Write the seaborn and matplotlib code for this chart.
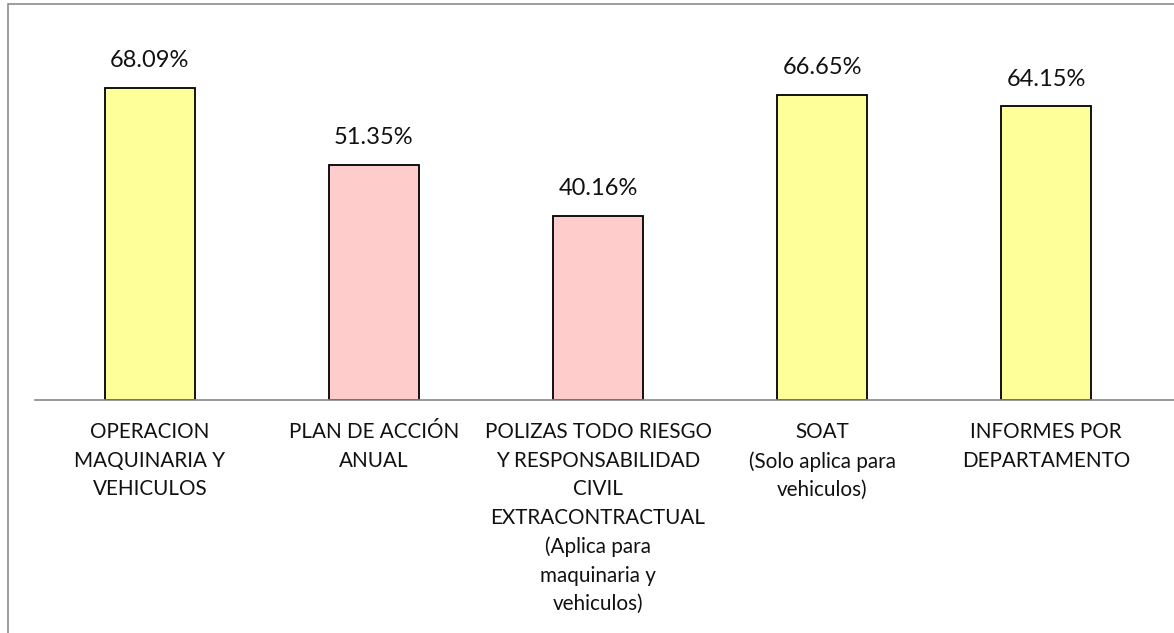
import pandas as pd
import seaborn as sns
import matplotlib.pyplot as plt
from matplotlib.patches import Rectangle

# chart values
categories = [
    "OPERACION\nMAQUINARIA Y\nVEHICULOS",
    "PLAN DE ACCIÓN\nANUAL",
    "POLIZAS TODO RIESGO\nY RESPONSABILIDAD\nCIVIL\nEXTRACONTRACTUAL\n(Aplica para\nmaquinaria y\nvehiculos)",
    "SOAT\n(Solo aplica para\nvehiculos)",
    "INFORMES POR\nDEPARTAMENTO",
]
values = [68.09, 51.35, 40.16, 66.65, 64.15]
bar_colors = ["#FFFF99", "#FFCCCC", "#FFCCCC", "#FFFF99", "#FFFF99"]

df = pd.DataFrame({"categoria": categories, "valor": values})

sns.set_style("white")
plt.rcParams["font.family"] = ["Lato", "DejaVu Sans"]

fig = plt.figure(figsize=(11.74, 6.33), dpi=100)
ax = fig.add_axes([35 / 1174, 233 / 633, 1139 / 1174, 366.6 / 633])

sns.barplot(data=df, x="categoria", y="valor", hue="categoria",
            palette=bar_colors, legend=False, width=0.4, saturation=1,
            edgecolor="black", linewidth=1.3, ax=ax)

# value labels above the bars
for i, v in enumerate(values):
    ax.text(i, v + 3.6, f"{v:.2f}%", ha="center", va="bottom",
            fontsize=17, color="#111111")

ax.set_xlim(-0.513, 4.571)
ax.set_ylim(0, 80)
ax.set_xlabel("")
ax.set_ylabel("")
ax.set_yticks([])
ax.tick_params(axis="x", length=0, pad=16, labelsize=14.9, colors="#111111")
ax.set_xticks(range(len(categories)))
ax.set_xticklabels(categories, linespacing=1.53)

for side in ["top", "right", "left"]:
    ax.spines[side].set_visible(False)
ax.spines["bottom"].set_color("#888888")
ax.spines["bottom"].set_linewidth(1.2)

# outer chart border (cropped on the right and bottom)
fig.patches.append(Rectangle((8 / 1174, -0.1), 1.2, (633 - 4) / 633 + 0.1,
                             transform=fig.transFigure, fill=False,
                             edgecolor="#8c8c8c", linewidth=1.2))

fig.savefig("out.png", dpi=100)
